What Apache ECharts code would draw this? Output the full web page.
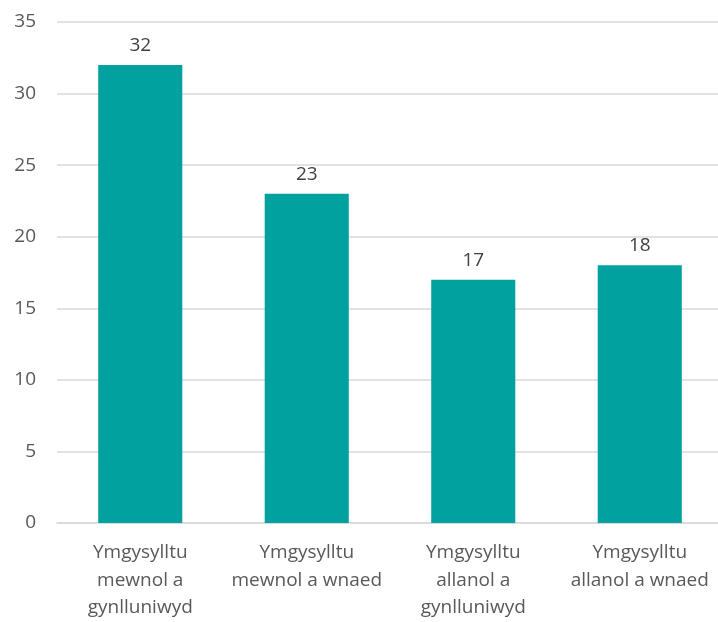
<!DOCTYPE html>
<html>
<head>
<meta charset="utf-8">
<script src="https://cdn.jsdelivr.net/npm/echarts@6/dist/echarts.min.js"></script>
<style>html,body{margin:0;padding:0;background:#fff;overflow:hidden;width:718px;height:622px;}#c{width:723px;height:622px;}</style>
</head>
<body>
<div id="c"></div>
<script>
var categories = ["Ymgysylltu\nmewnol a\ngynlluniwyd", "Ymgysylltu\nmewnol a wnaed", "Ymgysylltu\nallanol a\ngynlluniwyd", "Ymgysylltu\nallanol a wnaed"];
var values = [32, 23, 17, 18];
var yTicks = {min: 0, max: 35, interval: 5};

var chart = echarts.init(document.getElementById('c'), null, {renderer: 'canvas'});
var font = "'Open Sans', 'Noto Sans', sans-serif";
chart.setOption({
  animation: false,
  grid: {left: 57, right: 0, top: 22, bottom: 99, containLabel: false},
  xAxis: {
    type: 'category',
    data: categories,
    axisLine: {lineStyle: {color: '#d9d9d9', width: 1.5}},
    axisTick: {show: false},
    axisLabel: {color: '#595959', fontSize: 19, fontFamily: font, lineHeight: 27.5, margin: 16, interval: 0}
  },
  yAxis: {
    type: 'value',
    min: yTicks.min, max: yTicks.max, interval: yTicks.interval,
    axisLine: {show: false},
    axisTick: {show: false},
    splitLine: {lineStyle: {color: '#d9d9d9', width: 1.5}},
    axisLabel: {color: '#595959', fontSize: 19, fontFamily: font, margin: 21}
  },
  series: [{
    type: 'bar',
    data: values,
    barWidth: '50.5%',
    itemStyle: {color: '#00A19F'},
    label: {show: true, position: 'top', distance: 10, color: '#404040', fontSize: 19, fontFamily: font}
  }]
});
</script>
</body>
</html>
